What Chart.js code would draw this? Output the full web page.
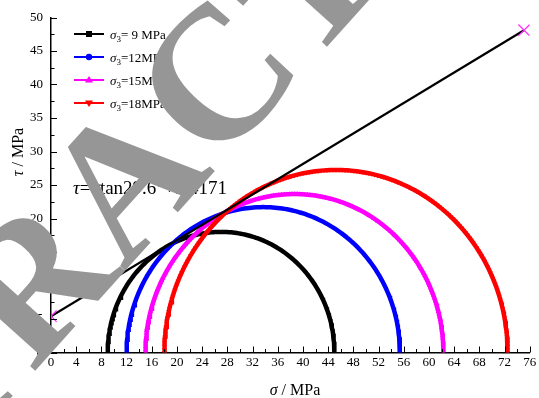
<!DOCTYPE html>
<html>
<head>
<meta charset="utf-8">
<script src="https://cdn.jsdelivr.net/npm/chart.js@4.4.1/dist/chart.umd.min.js"></script>
<style>
  html, body { margin: 0; padding: 0; background: #fff; }
  #wrap { width: 539px; height: 398px; position: relative; }
</style>
</head>
<body>
<div id="wrap"><canvas id="mohr"></canvas></div>
<script>
// principal stresses of each test (MPa)
const sigma3 = [9, 12, 15, 18];
const sigma1 = [45.0, 55.4, 62.3, 72.5];
const legendValues = [' 9 MPa', '12MPa', '15MPa', '18MPa'];
const colors = ['#000000', '#0000ff', '#ff00ff', '#ff0000'];
const markers = ['rect', 'circle', 'triangle', 'triangle'];
const markerRot = [0, 0, 0, 180];

// strength envelope end points
const envelopeSigma = [0, 75.1];
const envelopeTau = [5.42, 48.1];
const envelopeText = '=\u03c3tan29.6\u00b0+5.4171';

const xMin = 0, xMax = 76, xStep = 4;
const yMin = 0, yMax = 50, yStep = 5;

const serif = '"Liberation Serif", "Times New Roman", serif';

// semicircle points from sigma3 / sigma1
function mohrCircle(s3, s1) {
  const c = (s1 + s3) / 2, r = (s1 - s3) / 2;
  const pts = [];
  for (let k = 0; k <= 180; k++) {
    const a = Math.PI - k * Math.PI / 180;
    pts.push({ x: c + r * Math.cos(a), y: r * Math.sin(a) });
  }
  return pts;
}

const datasets = sigma3.map((s3, i) => ({
  label: 'sigma3=' + s3,
  data: mohrCircle(s3, sigma1[i]),
  showLine: true,
  borderColor: colors[i],
  backgroundColor: colors[i],
  borderWidth: 4.5,
  pointStyle: markers[i],
  pointRotation: markerRot[i],
  pointRadius: i >= 2 ? 2.8 : 1.5,
  pointBorderWidth: 0,
  pointHoverRadius: 0,
  order: 4 - i,
}));

datasets.push({
  label: 'envelope',
  data: envelopeSigma.map((s, i) => ({ x: s, y: envelopeTau[i] })),
  showLine: true,
  borderColor: '#000',
  borderWidth: 2.2,
  pointStyle: 'crossRot',
  pointRadius: 8,
  pointBorderColor: '#ff33ff',
  pointBorderWidth: 1.3,
  order: 0,
});

function drawRich(ctx, parts, x, y, align) {
  let w = 0;
  parts.forEach(p => { ctx.font = p.font; w += ctx.measureText(p.text).width; });
  let cx = align === 'center' ? x - w / 2 : x;
  ctx.textAlign = 'left';
  ctx.textBaseline = 'alphabetic';
  parts.forEach(p => {
    ctx.font = p.font;
    ctx.fillText(p.text, cx, y + (p.dy || 0));
    cx += ctx.measureText(p.text).width;
  });
}

const decorations = {
  id: 'decorations',
  afterDatasetsDraw(chart) {
    const ctx = chart.ctx;
    const xs = chart.scales.x, ys = chart.scales.y;
    const x0 = xs.getPixelForValue(0), y0 = ys.getPixelForValue(0);
    ctx.save();
    ctx.strokeStyle = '#000';
    ctx.lineWidth = 1;
    // inward major + minor ticks
    for (let v = xMin; v <= xMax; v += xStep / 2) {
      const px = Math.round(xs.getPixelForValue(v)) + 0.5;
      const len = v % xStep === 0 ? 6 : 3.5;
      ctx.beginPath(); ctx.moveTo(px, y0); ctx.lineTo(px, y0 - len); ctx.stroke();
    }
    for (let v = yMin; v <= yMax; v += yStep / 2) {
      const py = Math.round(ys.getPixelForValue(v)) + 0.5;
      const len = v % yStep === 0 ? 6 : 3.5;
      ctx.beginPath(); ctx.moveTo(x0, py); ctx.lineTo(x0 + len, py); ctx.stroke();
    }

    ctx.fillStyle = '#000';
    // axis titles
    drawRich(ctx, [
      { text: '\u03c3', font: 'italic 16px ' + serif },
      { text: ' / MPa', font: '16px ' + serif },
    ], 295, 395, 'center');
    ctx.save();
    ctx.translate(23, 152);
    ctx.rotate(-Math.PI / 2);
    drawRich(ctx, [
      { text: '\u03c4', font: 'italic 16px ' + serif },
      { text: ' / MPa', font: '16px ' + serif },
    ], 0, 0, 'center');
    ctx.restore();

    // legend
    sigma3.forEach((s, i) => {
      const ly = 34 + i * 23;
      ctx.strokeStyle = colors[i];
      ctx.fillStyle = colors[i];
      ctx.lineWidth = 2;
      ctx.beginPath(); ctx.moveTo(74, ly); ctx.lineTo(104, ly); ctx.stroke();
      ctx.beginPath();
      if (i === 0) ctx.rect(86, ly - 3, 6, 6);
      else if (i === 1) ctx.arc(89, ly, 3.2, 0, Math.PI * 2);
      else if (i === 2) { ctx.moveTo(89, ly - 4); ctx.lineTo(93, ly + 2.5); ctx.lineTo(85, ly + 2.5); }
      else { ctx.moveTo(89, ly + 4); ctx.lineTo(93, ly - 2.5); ctx.lineTo(85, ly - 2.5); }
      ctx.fill();
      ctx.fillStyle = '#000';
      drawRich(ctx, [
        { text: '\u03c3', font: 'italic 13px ' + serif },
        { text: '3', font: '9px ' + serif, dy: 3 },
        { text: '=' + legendValues[i], font: '13px ' + serif },
      ], 110, ly + 4.5, 'left');
    });

    // envelope equation
    drawRich(ctx, [
      { text: '\u03c4', font: 'italic 19px ' + serif },
      { text: envelopeText.slice(0, 1), font: '19px ' + serif },
      { text: envelopeText.slice(1, 2), font: 'italic 19px ' + serif },
      { text: envelopeText.slice(2), font: '19px ' + serif },
    ], 73, 194, 'left');
    ctx.restore();
  },
  afterDraw(chart) {
    // RETRACTED watermark
    const ctx = chart.ctx;
    ctx.save();
    ctx.translate(170, 221);
    ctx.rotate(-48 * Math.PI / 180);
    ctx.fillStyle = '#969696';
    ctx.font = 'bold 190px ' + serif;
    ctx.textAlign = 'center';
    ctx.textBaseline = 'alphabetic';
    ctx.fillText('RETRACTED', 0, 0);
    ctx.restore();
  }
};

new Chart(document.getElementById('mohr'), {
  type: 'scatter',
  data: { datasets },
  options: {
    responsive: true,
    maintainAspectRatio: false,
    animation: false,
    layout: { padding: { left: 0, right: 6, top: 17.5, bottom: 0 } },
    plugins: { legend: { display: false }, tooltip: { enabled: false } },
    scales: {
      x: {
        type: 'linear', min: xMin, max: xMax,
        afterFit(s) { s.height = 45.5; },
        ticks: { stepSize: xStep, color: '#000', padding: 2, font: { family: serif, size: 13 } },
        grid: { display: false, drawTicks: false },
        border: { display: true, color: '#000', width: 1.5 },
      },
      y: {
        type: 'linear', min: yMin, max: yMax,
        afterFit(s) { s.width = 51; },
        ticks: { stepSize: yStep, color: '#000', padding: 8, font: { family: serif, size: 13 } },
        grid: { display: false, drawTicks: false },
        border: { display: true, color: '#000', width: 1.5 },
      },
    },
  },
  plugins: [decorations],
});
</script>
</body>
</html>
